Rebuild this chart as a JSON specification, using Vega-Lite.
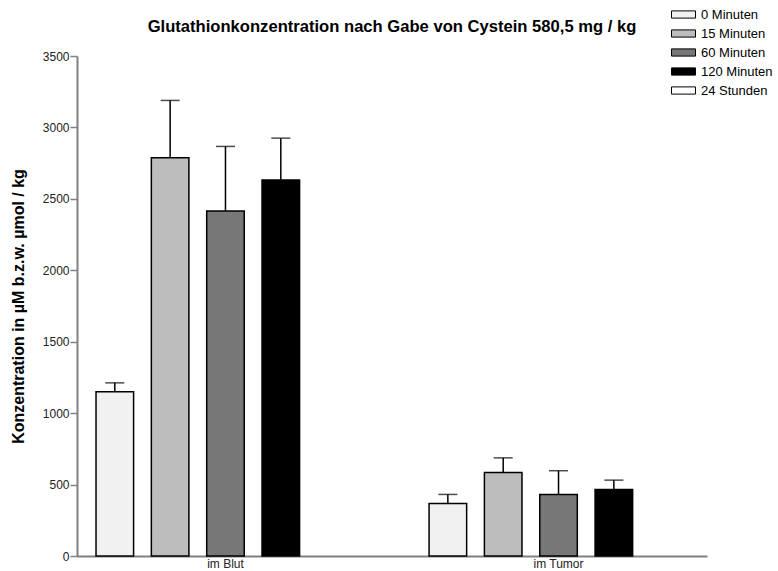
{
  "$schema": "https://vega.github.io/schema/vega-lite/v6.json",
  "width": 630,
  "height": 500,
  "autosize": {"type": "none"},
  "padding": {"left": 77, "top": 56, "right": 71, "bottom": 15},
  "background": "white",
  "config": {
    "font": "Liberation Sans",
    "view": {"stroke": null}
  },
  "title": {
    "text": "Glutathionkonzentration nach Gabe von Cystein 580,5 mg / kg",
    "fontSize": 16.6,
    "fontWeight": "bold",
    "font": "Liberation Sans",
    "color": "#000000",
    "anchor": "middle",
    "frame": "group",
    "offset": 0,
    "dy": 28
  },
  "data": {
    "values": [
      {"group": "im Blut", "time": "0 Minuten", "value": 1149, "upper": 1212},
      {"group": "im Blut", "time": "15 Minuten", "value": 2788, "upper": 3189},
      {"group": "im Blut", "time": "60 Minuten", "value": 2415, "upper": 2867},
      {"group": "im Blut", "time": "120 Minuten", "value": 2632, "upper": 2925},
      {"group": "im Tumor", "time": "0 Minuten", "value": 368, "upper": 431},
      {"group": "im Tumor", "time": "15 Minuten", "value": 585, "upper": 687},
      {"group": "im Tumor", "time": "60 Minuten", "value": 431, "upper": 597},
      {"group": "im Tumor", "time": "120 Minuten", "value": 466, "upper": 531}
    ]
  },
  "encoding": {
    "x": {
      "field": "group",
      "type": "nominal",
      "sort": ["im Blut", "im Tumor"],
      "scale": {"paddingInner": 0.2226, "paddingOuter": 0.0571},
      "axis": {
        "title": null,
        "labelAngle": 0,
        "ticks": false,
        "labelFontSize": 12,
        "labelColor": "#222222",
        "labelPadding": 2,
        "domainColor": "#808080",
        "domainWidth": 2
      }
    },
    "xOffset": {
      "field": "time",
      "type": "nominal",
      "scale": {
        "domain": ["0 Minuten", "15 Minuten", "60 Minuten", "120 Minuten", "24 Stunden"],
        "paddingInner": 0.321,
        "paddingOuter": 0
      }
    }
  },
  "layer": [
    {
      "mark": {"type": "bar", "stroke": "#000000", "strokeWidth": 1.5},
      "encoding": {
        "y": {
          "field": "value",
          "type": "quantitative",
          "scale": {"domain": [0, 3500], "nice": false},
          "axis": {
            "title": "Konzentration in µM b.z.w. µmol / kg",
            "titleFontSize": 16,
            "titleFontWeight": "bold",
            "titleColor": "#000000",
            "titlePadding": 16,
            "format": "d",
            "values": [0, 500, 1000, 1500, 2000, 2500, 3000, 3500],
            "grid": false,
            "labelFontSize": 12,
            "labelColor": "#222222",
            "labelPadding": 1,
            "tickSize": 7,
            "tickColor": "#808080",
            "tickWidth": 1.5,
            "domainColor": "#808080",
            "domainWidth": 2
          }
        },
        "fill": {
          "field": "time",
          "type": "nominal",
          "scale": {
            "domain": ["0 Minuten", "15 Minuten", "60 Minuten", "120 Minuten", "24 Stunden"],
            "range": ["#f1f1f1", "#bdbdbd", "#777777", "#000000", "#ffffff"]
          },
          "legend": {
            "title": null,
            "orient": "none",
            "legendX": 600,
            "legendY": -48,
            "padding": 0,
            "symbolType": "M-2,-0.6H2V0.6H-2Z",
            "symbolSize": 144,
            "symbolStrokeColor": "#000000",
            "symbolStrokeWidth": 1,
            "labelFontSize": 13,
            "labelColor": "#000000",
            "labelOffset": 11,
            "rowPadding": 5
          }
        }
      }
    },
    {
      "mark": {"type": "rule", "color": "#000000", "strokeWidth": 1.5},
      "encoding": {
        "y": {"field": "value", "type": "quantitative"},
        "y2": {"field": "upper"}
      }
    },
    {
      "mark": {"type": "tick", "color": "#000000", "thickness": 1.5, "size": 19},
      "encoding": {
        "y": {"field": "upper", "type": "quantitative"}
      }
    }
  ]
}
